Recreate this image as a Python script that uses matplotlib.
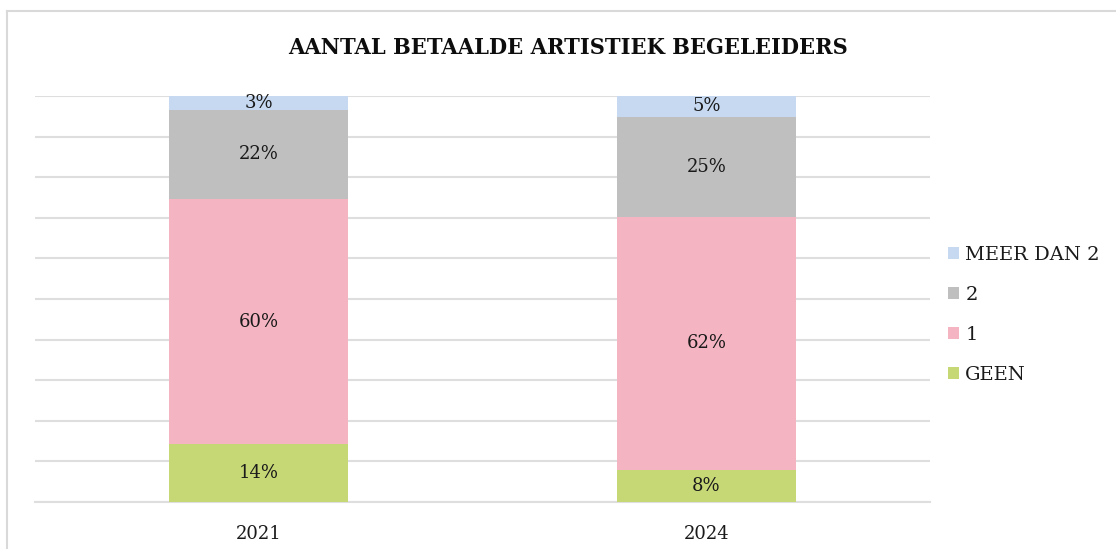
import matplotlib
matplotlib.use("Agg")
import matplotlib.pyplot as plt
from matplotlib.lines import Line2D
from matplotlib.patches import Patch
import numpy as np

years = ["2021", "2024"]
series_names = ["GEEN", "1", "2", "MEER DAN 2"]
geen = [14.2, 8.0]
een = [60.4, 62.3]
twee = [22.0, 24.6]
meer = [3.4, 5.1]
colors = ["#c6d776", "#f5b4c1", "#bfbfbf", "#c6d9f0"]
title = "AANTAL BETAALDE ARTISTIEK BEGELEIDERS"

W, H = 1116, 549
fig = plt.figure(figsize=(W / 100, H / 100), dpi=100)
ax = fig.add_axes([35 / W, 1 - 502 / H, (930 - 35) / W, (502 - 96) / H])

x = np.arange(len(years))
bottom = np.zeros(len(years))
txtfont = dict(family="DejaVu Serif", fontsize=13, color="#1a1a1a")
for vals, col in zip([geen, een, twee, meer], colors):
    vals = np.array(vals, dtype=float)
    ax.bar(x, vals, 0.4, bottom=bottom, color=col, zorder=3)
    for xi, b, v in zip(x, bottom, vals):
        ax.text(xi, b + v / 2, f"{round(v)}%", ha="center", va="center", zorder=4, **txtfont)
    bottom += vals

ax.set_xlim(-0.5, 1.5)
ax.set_ylim(0, 100)
ax.set_yticks(np.arange(0, 101, 10))
ax.yaxis.grid(True, color="#dedede", linewidth=1.5, zorder=0)
ax.tick_params(axis="y", left=False, labelleft=False)
ax.tick_params(axis="x", bottom=False, pad=13)
ax.set_xticks(x)
ax.set_xticklabels(years, family="DejaVu Serif", fontsize=13, color="#1a1a1a")
for s in ["top", "right", "left"]:
    ax.spines[s].set_visible(False)
ax.spines["bottom"].set_color("#dedede")
ax.spines["bottom"].set_linewidth(1.5)

fig.text(568 / W, 1 - 48 / H, title, ha="center", va="center",
         family="DejaVu Serif", fontstretch="condensed", fontweight="bold",
         fontsize=16.8, color="#0d0d0d")

handles = [Patch(facecolor=c) for c in colors][::-1]
labels = series_names[::-1]
leg = fig.legend(handles, labels, loc="upper left",
                 bbox_to_anchor=(940 / W, 1 - 238 / H), frameon=False,
                 handlelength=0.6, handleheight=0.6, handletextpad=0.3,
                 labelspacing=1.13, borderaxespad=0,
                 prop=dict(family="DejaVu Serif", size=14))
for t in leg.get_texts():
    t.set_color("#1a1a1a")

fig.add_artist(Line2D([7 / W, 1], [1 - 11 / H, 1 - 11 / H], color="#d9d9d9", linewidth=1.5))
fig.add_artist(Line2D([7 / W, 7 / W], [1 - 11 / H, 0], color="#d9d9d9", linewidth=1.5))

fig.savefig("out.png", dpi=100, facecolor="white")
